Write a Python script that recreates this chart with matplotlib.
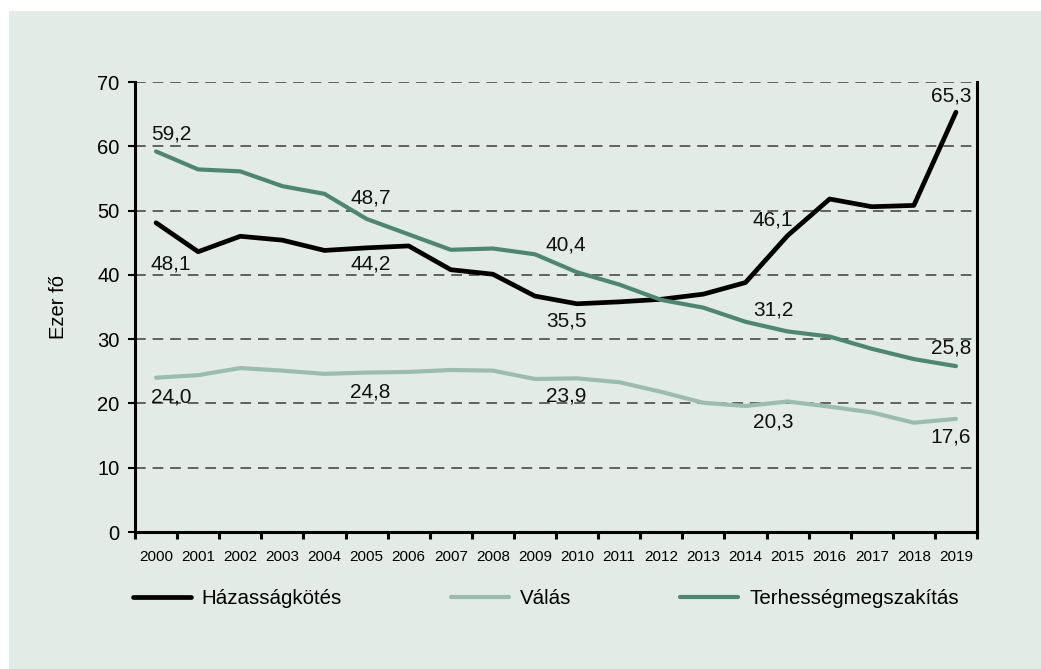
import numpy as np
import matplotlib
matplotlib.use("Agg")
import matplotlib.pyplot as plt
from matplotlib.patches import Rectangle

plt.rcParams['font.family'] = ['Liberation Sans', 'DejaVu Sans']

years = list(range(2000, 2020))
hazassag = [48.1, 43.6, 46.0, 45.4, 43.8, 44.2, 44.5, 40.8, 40.1, 36.7,
            35.5, 35.8, 36.2, 37.0, 38.8, 46.1, 51.8, 50.6, 50.8, 65.3]
valas = [24.0, 24.4, 25.5, 25.1, 24.6, 24.8, 24.9, 25.2, 25.1, 23.8,
         23.9, 23.3, 21.8, 20.1, 19.6, 20.3, 19.5, 18.6, 17.0, 17.6]
terhesseg = [59.2, 56.4, 56.1, 53.8, 52.6, 48.7, 46.3, 43.9, 44.1, 43.2,
             40.4, 38.5, 36.1, 34.9, 32.7, 31.2, 30.4, 28.5, 26.9, 25.8]
series_names = ['Házasságkötés', 'Válás', 'Terhességmegszakítás']
label_years = [2000, 2005, 2010, 2015, 2019]

bg = '#e3ebe7'
colors = ['#000000', '#9dbcb1', '#4f8671']

fig = plt.figure(figsize=(10.41, 6.69), dpi=100, facecolor='white')
# coloured panel with a thin white margin on top/left
fig.patches.append(Rectangle((9 / 1041, 0), 1, 1 - 11 / 669, transform=fig.transFigure,
                             facecolor=bg, edgecolor='none', zorder=-10))

ax = fig.add_axes([135 / 1041, 1 - 532 / 669, 842 / 1041, 450 / 669])
ax.set_facecolor(bg)
x = np.arange(len(years))

for vals, name, c in zip([hazassag, valas, terhesseg], series_names, colors):
    lw = 3.4 if c == '#000000' else 3.0
    ax.plot(x, vals, color=c, lw=lw, label=name, solid_capstyle='round',
            solid_joinstyle='round', zorder=3)

# data labels (pixel offsets from the point)
offsets = {
    'Terhességmegszakítás': [(15, 17), (4, 21), (-11, 27), (-14, 21), (-5, 18)],
    'Házasságkötés': [(15, -41), (4, -16), (-11, -17), (-15, 16), (-5, 16)],
    'Válás': [(15, -19), (4, -19), (-11, -18), (-14, -20), (-5, -18)],
}
data = {'Házasságkötés': hazassag, 'Válás': valas, 'Terhességmegszakítás': terhesseg}
for name, offs in offsets.items():
    for yr, (dx, dy) in zip(label_years, offs):
        i = years.index(yr)
        v = data[name][i]
        ax.annotate(f"{v:.1f}".replace('.', ','), (i, v), xytext=(dx, dy),
                    textcoords='offset pixels', ha='center', va='center',
                    fontsize=15, color='#111111', zorder=4)

ax.set_xlim(-0.5, len(years) - 0.5)
ax.set_ylim(0, 70)
ax.set_yticks(range(0, 71, 10))
ax.set_xticks(x)
ax.set_xticklabels([str(y) for y in years], fontsize=11)
ax.set_xticks(np.arange(-0.5, len(years), 1), minor=True)
ax.tick_params(axis='x', which='major', length=0, pad=13)
ax.tick_params(axis='x', which='minor', length=5, width=2.2, direction='out')
ax.tick_params(axis='y', length=5, width=1.5, labelsize=14.5, pad=6)

for y in range(10, 71, 10):
    ax.axhline(y, color='#3c3c3c', lw=1.1, dashes=(7, 4.5), zorder=1)

ax.spines['top'].set_visible(False)
for s in ['left', 'right', 'bottom']:
    ax.spines[s].set_linewidth(2.2)
    ax.spines[s].set_color('black')

fig.text(58 / 1041, 1 - 307 / 669, 'Ezer fő', rotation=90, ha='center', va='center',
         fontsize=14.5)

fig.legend(loc='center left', bbox_to_anchor=(133 / 1041, 1 - 599 / 669), ncol=3,
           frameon=False, fontsize=14.8, borderpad=0, borderaxespad=0,
           handlelength=2.8, handletextpad=0.55, columnspacing=5.3)

fig.savefig('out.png', dpi=100, facecolor='white')
